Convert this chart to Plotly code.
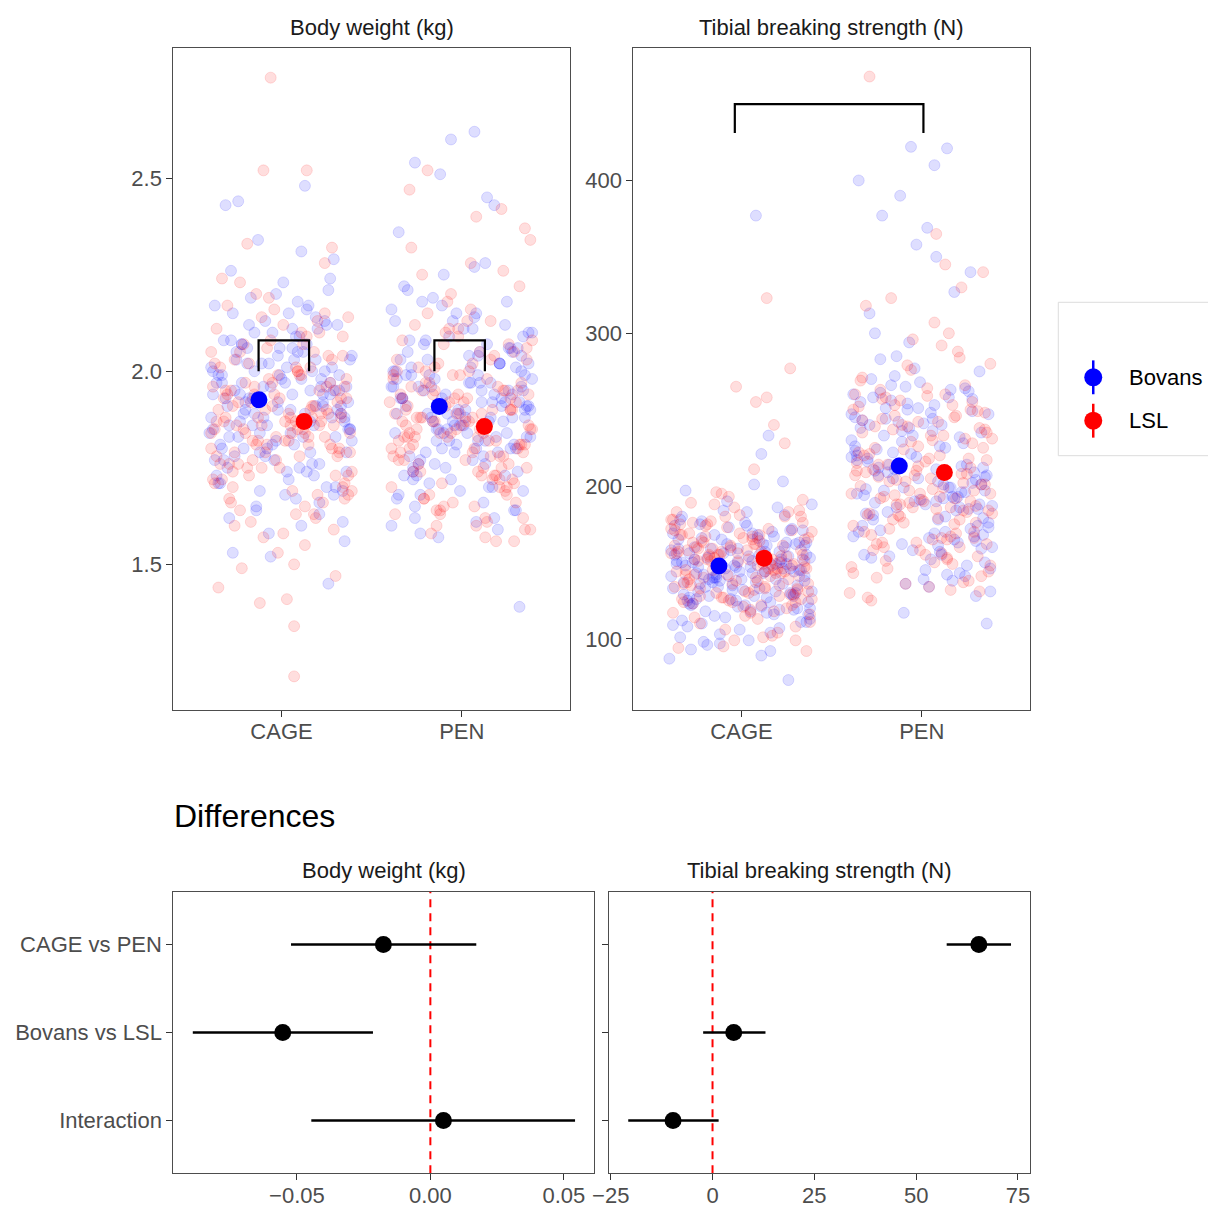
import plotly.graph_objects as go

# ---------------- data ----------------
categories = ["CAGE", "PEN"]
breeds = ["Bovans", "LSL"]

bw_cage_bovans = [1.93, 2.05, 1.81, 1.97, 2.12, 1.74, 1.88, 2.01, 1.66, 1.95,
                  2.18, 1.84, 1.91, 2.07, 1.79, 1.99, 2.23, 1.70, 1.86, 2.03,
                  1.62, 1.94, 2.10, 1.83, 1.90, 2.14, 1.77, 1.98, 2.44, 1.87,
                  1.72, 2.06, 1.92, 1.80, 2.16, 1.96, 1.68, 2.02, 1.85, 1.53,
                  2.09, 1.89, 1.76, 2.00, 2.21, 1.82, 1.95, 1.64, 2.11, 1.91,
                  2.48, 1.78, 2.04, 1.87, 1.97, 1.73, 2.13, 1.93, 1.81, 2.26,
                  1.69, 1.99, 1.86, 2.08, 1.75, 1.92, 2.01, 1.58, 2.17, 1.84,
                  1.96, 2.34, 1.79, 2.05, 1.90, 1.71, 2.12, 1.88, 1.98, 1.45,
                  2.19, 1.83, 1.94, 2.03, 1.77, 1.89, 2.07, 1.67, 2.43, 1.95,
                  1.85, 2.00, 1.74, 2.15, 1.91, 1.80, 2.29, 1.97, 1.60, 2.02,
                  1.88, 2.04, 1.76, 1.99, 2.11, 1.83, 1.94, 1.69, 2.07, 1.86,
                  1.97, 1.73, 2.02, 1.90, 1.80, 2.15, 1.92, 1.65, 2.00, 1.85,
                  2.09, 1.78, 1.95, 2.20, 1.87, 1.71, 2.03, 1.93, 1.82, 2.13,
                  1.98, 1.75, 1.89, 2.06, 1.61, 1.94, 1.84, 2.01, 2.24, 1.79,
                  1.91, 2.08, 1.68, 1.96, 1.86, 2.12, 1.52, 1.99, 1.81, 2.05,
                  1.90, 1.74, 2.17, 1.88, 1.96, 1.63, 2.03, 1.85, 1.92, 2.31,
                  1.77, 2.00, 1.89, 1.70, 2.10, 1.94, 1.83, 2.06, 1.97, 1.56]
bw_cage_lsl = [1.87, 1.76, 2.01, 1.92, 1.68, 2.08, 1.81, 1.95, 1.73, 2.14,
               1.84, 1.62, 1.99, 1.89, 2.05, 1.78, 1.93, 1.70, 2.20, 1.86,
               2.76, 1.80, 1.97, 1.65, 2.11, 1.83, 1.90, 1.74, 2.03, 1.58,
               1.88, 2.17, 1.79, 1.94, 1.21, 1.85, 2.07, 1.71, 1.96, 1.82,
               2.52, 1.67, 1.91, 2.00, 1.77, 1.86, 2.24, 1.63, 1.98, 1.84,
               1.34, 1.92, 2.10, 1.75, 1.88, 2.02, 1.69, 1.95, 1.81, 2.52,
               1.44, 1.90, 2.06, 1.78, 1.86, 1.99, 1.72, 2.13, 1.83, 1.93,
               1.40, 2.04, 1.76, 1.89, 2.33, 1.80, 1.97, 1.66, 1.87, 2.09,
               1.49, 1.85, 2.01, 1.73, 1.94, 1.82, 2.32, 1.60, 1.91, 1.79,
               1.41, 1.88, 2.15, 1.75, 1.96, 1.84, 1.55, 2.05, 1.87, 1.47,
               1.82, 1.95, 1.70, 1.88, 2.04, 1.77, 1.91, 1.64, 1.99, 1.85,
               2.10, 1.74, 1.93, 1.81, 1.68, 2.02, 1.87, 1.59, 1.96, 1.79,
               2.07, 1.84, 1.72, 1.90, 2.16, 1.83, 1.66, 1.98, 1.86, 2.12,
               1.76, 1.92, 1.61, 2.00, 1.80, 1.89, 2.19, 1.71, 1.94, 1.85,
               1.53, 1.97, 1.78, 2.05, 1.88, 1.69, 2.23, 1.82, 1.95, 1.75,
               2.01, 1.87, 1.63, 1.91, 2.09, 1.79, 1.86, 1.57, 2.14, 1.90,
               1.84, 1.73, 2.03, 1.93, 1.67, 2.28, 1.81, 1.89, 1.96, 1.50]
bw_pen_bovans = [1.91, 2.03, 1.80, 1.96, 2.10, 1.72, 1.87, 1.99, 1.64, 1.93,
                 2.16, 1.83, 1.90, 2.06, 1.77, 1.97, 2.22, 1.69, 1.85, 2.01,
                 2.60, 1.94, 2.08, 1.82, 1.89, 2.12, 1.75, 1.98, 2.54, 1.86,
                 1.70, 2.05, 1.92, 1.79, 2.14, 1.95, 1.66, 2.00, 1.84, 1.57,
                 2.07, 1.88, 1.74, 1.99, 2.19, 1.81, 1.93, 1.62, 2.09, 1.90,
                 2.62, 1.76, 2.02, 1.86, 1.96, 1.71, 2.11, 1.91, 1.80, 2.25,
                 1.68, 1.97, 1.85, 2.06, 1.73, 1.92, 2.00, 1.59, 2.15, 1.83,
                 2.51, 1.95, 1.78, 2.04, 1.89, 1.39, 2.13, 1.87, 1.98, 2.45,
                 2.18, 1.82, 1.93, 2.02, 1.76, 1.88, 2.05, 1.65, 2.43, 1.94,
                 1.84, 1.99, 1.73, 2.17, 1.90, 1.79, 2.28, 1.96, 1.61, 2.01,
                 1.87, 2.02, 1.75, 1.97, 2.09, 1.81, 1.92, 1.68, 2.05, 1.84,
                 1.95, 1.72, 2.00, 1.89, 1.79, 2.13, 1.90, 1.64, 1.98, 1.83,
                 2.07, 1.77, 1.93, 2.18, 1.86, 1.70, 2.01, 1.91, 1.80, 2.11,
                 1.96, 1.74, 1.88, 2.04, 1.60, 1.93, 1.82, 1.99, 2.21, 1.78,
                 1.89, 2.06, 1.67, 1.94, 1.85, 2.10, 1.58, 1.97, 1.80, 2.03,
                 1.88, 1.73, 2.15, 1.87, 1.95, 1.62, 2.02, 1.84, 1.91, 2.36,
                 1.76, 1.99, 1.88, 1.69, 2.08, 1.92, 1.82, 2.04, 1.96, 2.27]
bw_pen_lsl = [1.86, 1.75, 1.99, 1.90, 1.68, 2.06, 1.80, 1.93, 1.72, 2.12,
              1.83, 1.63, 1.97, 1.88, 2.03, 1.77, 1.92, 1.70, 2.18, 1.85,
              2.47, 1.79, 1.95, 1.66, 2.09, 1.82, 1.89, 1.73, 2.01, 1.59,
              1.87, 2.15, 1.78, 1.93, 1.61, 1.84, 2.05, 1.71, 1.94, 1.81,
              2.40, 1.67, 1.90, 1.98, 1.76, 1.85, 2.22, 1.64, 1.96, 1.83,
              1.57, 1.91, 2.08, 1.74, 1.87, 2.00, 1.69, 1.94, 1.80, 2.32,
              1.62, 1.89, 2.04, 1.77, 1.85, 1.97, 1.72, 2.11, 1.82, 1.92,
              2.42, 2.02, 1.75, 1.88, 2.28, 1.79, 1.95, 1.65, 1.86, 2.07,
              1.58, 1.84, 1.99, 1.73, 1.93, 1.81, 2.25, 1.60, 1.90, 1.78,
              2.34, 1.87, 2.13, 1.74, 1.95, 1.83, 1.56, 2.03, 1.86, 2.52,
              1.81, 1.94, 1.70, 1.87, 2.02, 1.76, 1.90, 1.64, 1.98, 1.84,
              2.08, 1.73, 1.92, 1.80, 1.67, 2.00, 1.86, 1.60, 1.95, 1.78,
              2.05, 1.83, 1.71, 1.89, 2.13, 1.82, 1.65, 1.97, 1.85, 2.10,
              1.75, 1.91, 1.62, 1.99, 1.79, 1.88, 2.16, 1.70, 1.93, 1.84,
              1.56, 1.96, 1.77, 2.03, 1.87, 1.68, 2.20, 1.81, 1.94, 1.74,
              2.00, 1.86, 1.63, 1.90, 2.07, 1.78, 1.85, 1.59, 2.11, 1.89,
              1.83, 1.72, 2.01, 1.92, 1.66, 2.26, 1.80, 1.88, 1.95, 2.37]

tib_cage_bovans = [148, 162, 135, 171, 128, 155, 141, 183, 119, 152,
                   166, 138, 145, 177, 124, 159, 132, 149, 190, 113,
                   156, 143, 168, 130, 151, 139, 174, 121, 147, 161,
                   99, 153, 136, 180, 127, 158, 144, 165, 116, 150,
                   377, 142, 170, 133, 154, 125, 163, 140, 186, 108,
                   157, 146, 131, 175, 122, 149, 160, 137, 201, 93,
                   152, 144, 167, 129, 155, 118, 172, 141, 233, 87,
                   150, 134, 163, 126, 147, 178, 120, 156, 139, 73,
                   159, 143, 169, 131, 148, 111, 166, 137, 197, 104,
                   153, 140, 174, 123, 146, 162, 128, 151, 221, 96,
                   138, 121, 157, 112, 169, 131, 146, 103, 161, 127,
                   150, 116, 173, 135, 98, 154, 124, 142, 181, 109,
                   133, 160, 119, 147, 92, 165, 128, 139, 188, 114,
                   152, 125, 144, 106, 171, 136, 118, 158, 130, 97,
                   149, 122, 176, 111, 140, 163, 126, 145, 101, 168,
                   134, 117, 155, 129, 184, 107, 143, 120, 159, 89,
                   137, 148, 115, 162, 132, 203, 123, 151, 110, 141]
tib_cage_lsl = [154, 168, 140, 177, 131, 160, 146, 189, 124, 157,
                172, 143, 150, 183, 128, 164, 136, 155, 196, 117,
                161, 148, 174, 134, 156, 144, 180, 126, 152, 166,
                102, 158, 141, 186, 132, 163, 149, 171, 120, 155,
                323, 147, 176, 138, 159, 129, 168, 145, 193, 111,
                162, 151, 135, 181, 126, 154, 165, 142, 277, 95,
                157, 149, 173, 133, 160, 122, 178, 146, 265, 92,
                155, 139, 169, 130, 152, 184, 124, 161, 144, 258,
                164, 148, 175, 136, 153, 115, 171, 142, 240, 106,
                158, 145, 180, 127, 151, 167, 133, 156, 255, 99,
                145, 128, 163, 119, 176, 138, 152, 110, 168, 134,
                157, 123, 180, 142, 104, 161, 131, 149, 188, 116,
                140, 167, 126, 154, 99, 172, 135, 146, 195, 121,
                159, 132, 151, 113, 178, 143, 125, 165, 137, 101,
                156, 129, 183, 118, 147, 170, 133, 152, 108, 175,
                141, 124, 162, 136, 191, 114, 150, 127, 166, 94,
                144, 155, 122, 169, 139, 228, 130, 158, 117, 211]
tib_pen_bovans = [213, 238, 190, 256, 176, 221, 199, 270, 164, 229,
                  247, 184, 205, 262, 171, 226, 194, 212, 285, 152,
                  422, 202, 251, 180, 217, 196, 265, 160, 210, 241,
                  138, 218, 188, 277, 169, 233, 201, 245, 148, 215,
                  421, 197, 258, 178, 222, 167, 243, 192, 294, 131,
                  410, 207, 186, 268, 159, 214, 236, 182, 340, 117,
                  400, 199, 250, 174, 224, 155, 260, 193, 358, 110,
                  390, 185, 240, 166, 209, 275, 158, 228, 195, 142,
                  377, 203, 255, 173, 211, 145, 249, 189, 327, 136,
                  369, 198, 264, 162, 206, 244, 170, 219, 350, 128,
                  205, 232, 181, 248, 168, 219, 193, 261, 157, 226,
                  240, 178, 201, 254, 163, 223, 188, 209, 272, 146,
                  197, 244, 174, 214, 190, 258, 153, 207, 236, 139,
                  212, 185, 266, 161, 230, 196, 238, 150, 216, 192,
                  251, 172, 220, 165, 242, 187, 283, 134, 204, 183,
                  263, 155, 211, 233, 179, 300, 143, 199, 247, 170,
                  225, 154, 257, 191, 313, 141, 186, 235, 167, 253]
tib_pen_lsl = [209, 233, 186, 250, 172, 217, 195, 264, 160, 225,
               242, 180, 201, 257, 167, 222, 190, 208, 279, 148,
               468, 198, 246, 176, 213, 192, 260, 156, 206, 237,
               134, 214, 184, 271, 165, 229, 197, 240, 144, 211,
               365, 193, 253, 174, 218, 163, 238, 188, 288, 127,
               345, 203, 182, 263, 155, 210, 231, 178, 307, 125,
               340, 195, 245, 170, 220, 151, 255, 189, 300, 130,
               330, 181, 235, 162, 205, 269, 154, 224, 191, 138,
               323, 199, 250, 169, 207, 141, 244, 185, 318, 132,
               280, 194, 259, 158, 202, 239, 166, 215, 292, 146,
               201, 226, 178, 243, 165, 214, 190, 256, 153, 221,
               235, 175, 197, 249, 160, 218, 184, 204, 266, 143,
               193, 239, 170, 210, 186, 252, 150, 203, 231, 136,
               208, 181, 260, 158, 225, 192, 233, 147, 212, 188,
               246, 168, 216, 162, 237, 183, 276, 131, 200, 179,
               258, 152, 207, 228, 176, 284, 140, 195, 242, 166,
               220, 149, 253, 187, 296, 137, 182, 230, 163, 248]

# horizontal jitter offsets (category units)
jitter_a = [-0.31, 0.12, -0.05, 0.27, -0.18, 0.36, -0.39, 0.03, 0.21, -0.26,
            0.09, -0.12, 0.33, -0.22, 0.16, -0.35, 0.01, 0.25, -0.08, 0.38,
            -0.29, 0.06, -0.15, 0.30, -0.02, 0.19, -0.37, 0.11, -0.24, 0.35,
            0.04, -0.19, 0.23, -0.33, 0.14, -0.06, 0.29, -0.11, 0.37, -0.27,
            0.08, -0.21, 0.17, -0.38, 0.26, -0.03, 0.32, -0.14, 0.20, -0.30,
            0.13, -0.09, 0.39, -0.23, 0.02, -0.36, 0.24, -0.16, 0.07, -0.28,
            0.34, -0.01, 0.18, -0.32, 0.10, -0.20, 0.28, -0.07, 0.15, -0.40,
            0.22, -0.13, 0.36, -0.25, 0.05, -0.34, 0.31, -0.10, 0.00, 0.26,
            -0.17, 0.12, -0.38, 0.19, -0.04, 0.33, -0.22, 0.08, -0.31, 0.16,
            0.38, -0.15, 0.03, -0.27, 0.23, -0.08, 0.29, -0.36, 0.11, -0.19,
            0.35, -0.02, 0.21, -0.33, 0.06, -0.24, 0.27, -0.12, 0.14, -0.29,
            -0.33, 0.18, -0.07, 0.31, -0.21, 0.04, 0.37, -0.14, 0.24, -0.38,
            0.10, -0.26, 0.29, -0.03, 0.16, -0.35, 0.07, -0.18, 0.39, -0.09,
            0.22, -0.30, 0.13, -0.01, 0.34, -0.23, 0.05, -0.39, 0.27, -0.12,
            0.19, -0.28, 0.02, 0.36, -0.16, 0.25, -0.06, 0.32, -0.34, 0.09,
            -0.20, 0.14, -0.37, 0.28, -0.10, 0.21, -0.25, 0.38, -0.02, 0.11,
            -0.32, 0.17, -0.15, 0.30, -0.05, 0.23, -0.29, 0.06, -0.22, 0.35]
jitter_b = [0.22, -0.34, 0.08, -0.17, 0.37, -0.06, 0.15, -0.28, 0.30, -0.11,
            -0.39, 0.19, -0.02, 0.26, -0.23, 0.10, -0.32, 0.34, -0.14, 0.05,
            -0.06, 0.28, -0.20, 0.13, -0.36, 0.24, -0.09, 0.39, -0.26, 0.01,
            0.17, -0.30, 0.32, -0.04, 0.07, -0.21, 0.12, -0.37, 0.25, -0.13,
            0.14, 0.35, -0.27, 0.09, -0.16, 0.29, -0.33, 0.18, -0.07, 0.38,
            0.07, -0.24, 0.21, -0.01, 0.33, -0.18, 0.06, -0.31, 0.27, -0.10,
            -0.35, 0.16, -0.08, 0.31, -0.25, 0.11, -0.38, 0.20, -0.03, 0.36,
            -0.12, 0.26, -0.29, 0.04, -0.19, 0.32, -0.05, 0.23, -0.36, 0.14,
            -0.22, 0.09, -0.34, 0.37, -0.15, 0.02, 0.28, -0.26, 0.18, -0.09,
            0.03, -0.31, 0.24, -0.11, 0.35, -0.20, 0.13, -0.39, 0.08, 0.30,
            -0.16, 0.21, -0.27, 0.05, 0.34, -0.03, 0.17, -0.23, 0.10, -0.37,
            0.11, -0.27, 0.33, -0.08, 0.20, -0.37, 0.02, 0.29, -0.15, 0.38,
            -0.21, 0.06, -0.33, 0.25, -0.04, 0.15, -0.28, 0.36, -0.11, 0.01,
            -0.24, 0.31, -0.17, 0.09, -0.39, 0.22, -0.07, 0.35, -0.30, 0.12,
            -0.02, 0.27, -0.36, 0.18, -0.13, 0.39, -0.23, 0.04, 0.30, -0.19,
            0.16, -0.32, 0.08, -0.05, 0.34, -0.26, 0.21, -0.10, 0.37, -0.35,
            0.13, -0.18, 0.28, -0.01, -0.29, 0.24, -0.14, 0.33, -0.38, 0.07]

# model means (CAGE, PEN) and half-widths of their intervals
bw_mean_bovans = [1.926, 1.909]
bw_mean_lsl = [1.870, 1.857]
bw_mean_err = [0.015, 0.015]
tib_mean_bovans = [147.6, 213.1]
tib_mean_lsl = [152.8, 208.8]
tib_mean_err = [4.0, 4.0]

# significance brackets: (x_left, x_right, y_low, y_high)
bw_brackets = [(0.873, 1.153, 2.0, 2.08), (1.848, 2.128, 2.0, 2.08)]
tib_brackets = [(0.963, 2.009, 431.0, 450.0)]

# differences (estimate and interval)
contrasts = ["CAGE vs PEN", "Bovans vs LSL", "Interaction"]
bw_diff_est = [-0.0176, -0.0553, 0.0049]
bw_diff_lo = [-0.0522, -0.0890, -0.0446]
bw_diff_hi = [0.0172, -0.0215, 0.0542]
tib_diff_est = [65.4, 5.2, -9.7]
tib_diff_lo = [57.5, -2.3, -20.7]
tib_diff_hi = [73.3, 13.0, 1.5]

# ---------------- styling ----------------
W, H = 1208, 1205
FONT = "Liberation Sans, Arial, Helvetica, sans-serif"
BLUE, RED = "#0000FF", "#FF0000"
BLUE_A, RED_A = "rgba(0,0,255,0.13)", "rgba(255,0,0,0.13)"
DODGE = 0.125


def px(x):
    return x / W


def py(y):
    return 1 - y / H


fig = go.Figure()

raw = {
    ("bw", "CAGE", "Bovans"): (bw_cage_bovans, jitter_a),
    ("bw", "CAGE", "LSL"): (bw_cage_lsl, jitter_b),
    ("bw", "PEN", "Bovans"): (bw_pen_bovans, jitter_b),
    ("bw", "PEN", "LSL"): (bw_pen_lsl, jitter_a),
    ("tib", "CAGE", "Bovans"): (tib_cage_bovans, jitter_a),
    ("tib", "CAGE", "LSL"): (tib_cage_lsl, jitter_b),
    ("tib", "PEN", "Bovans"): (tib_pen_bovans, jitter_b),
    ("tib", "PEN", "LSL"): (tib_pen_lsl, jitter_a),
}
axes = {"bw": ("x", "y"), "tib": ("x2", "y2")}
colors_a = {"Bovans": BLUE_A, "LSL": RED_A}
colors = {"Bovans": BLUE, "LSL": RED}

for var in ["bw", "tib"]:
    xa, ya = axes[var]
    for breed in breeds:
        xs, ys = [], []
        for ci, cat in enumerate(categories):
            vals, jit = raw[(var, cat, breed)]
            for v, j in zip(vals, jit):
                xs.append(ci + 1 + j)
                ys.append(v)
        fig.add_trace(go.Scatter(
            x=xs, y=ys, xaxis=xa, yaxis=ya, mode="markers", showlegend=False,
            marker=dict(size=11, color=colors_a[breed],
                        line=dict(color=colors_a[breed], width=1)),
            hoverinfo="skip"))

# brackets
for var, brs in [("bw", bw_brackets), ("tib", tib_brackets)]:
    xa, ya = axes[var]
    for (x0, x1, y0, y1) in brs:
        fig.add_trace(go.Scatter(x=[x0, x0, x1, x1], y=[y0, y1, y1, y0],
                                 xaxis=xa, yaxis=ya, mode="lines", showlegend=False,
                                 line=dict(color="black", width=2.2), hoverinfo="skip"))

# means
means = {
    "bw": {"Bovans": bw_mean_bovans, "LSL": bw_mean_lsl, "err": bw_mean_err},
    "tib": {"Bovans": tib_mean_bovans, "LSL": tib_mean_lsl, "err": tib_mean_err},
}
for var in ["bw", "tib"]:
    xa, ya = axes[var]
    for bi, breed in enumerate(breeds):
        off = -DODGE if bi == 0 else DODGE
        fig.add_trace(go.Scatter(
            x=[i + 1 + off for i in range(len(categories))], y=means[var][breed],
            xaxis=xa, yaxis=ya, mode="markers", showlegend=False,
            marker=dict(size=17, color=colors[breed]),
            error_y=dict(type="data", array=means[var]["err"], color=colors[breed],
                         thickness=2.5, width=0)))

# differences
for (xa, ya, est, lo, hi) in [("x3", "y3", bw_diff_est, bw_diff_lo, bw_diff_hi),
                               ("x4", "y4", tib_diff_est, tib_diff_lo, tib_diff_hi)]:
    fig.add_trace(go.Scatter(
        x=est, y=contrasts, xaxis=xa, yaxis=ya, mode="markers", showlegend=False,
        marker=dict(size=17, color="black"),
        error_x=dict(type="data", symmetric=False,
                     array=[h - e for h, e in zip(hi, est)],
                     arrayminus=[e - l for e, l in zip(est, lo)],
                     color="black", thickness=2.5, width=0)))

# legend keys (own small axis)
for breed, ky in zip(breeds, [0.5175, 0.2357]):
    fig.add_trace(go.Scatter(
        x=[0.235], y=[ky], xaxis="x5", yaxis="y5", mode="markers",
        showlegend=False, marker=dict(size=18, color=colors[breed]),
        error_y=dict(type="data", array=[0.11], color=colors[breed], thickness=2.5, width=0)))

# ---------------- axes ----------------
BORDER = "#4d4d4d"
TICKF = dict(family=FONT, size=22, color="#4d4d4d")
common = dict(showline=True, linecolor=BORDER, linewidth=1, mirror=True,
              ticks="outside", ticklen=6, tickwidth=1, tickcolor="#333333",
              showgrid=False, zeroline=False, tickfont=TICKF, automargin=False)
xcommon = dict(common, ticklabelstandoff=-4)

top_y = [py(710), py(48.3)]
bot_y = [py(1173.3), py(891.7)]

layout = dict(
    width=W, height=H, margin=dict(l=0, r=0, t=0, b=0, autoexpand=False),
    paper_bgcolor="white", plot_bgcolor="white", showlegend=False,
    font=dict(family=FONT),
    xaxis=dict(domain=[px(173.3), px(570)], range=[0.4, 2.6], anchor="y",
               tickvals=[1, 2], ticktext=categories, **xcommon),
    yaxis=dict(domain=top_y, range=[1.123, 2.836], anchor="x",
               tickvals=[1.5, 2.0, 2.5], ticktext=["1.5", "2.0", "2.5"], **common),
    xaxis2=dict(domain=[px(633.3), px(1030)], range=[0.4, 2.6], anchor="y2",
                tickvals=[1, 2], ticktext=categories, **xcommon),
    yaxis2=dict(domain=top_y, range=[53.4, 486.5], anchor="x2",
                tickvals=[100, 200, 300, 400], **common),
    xaxis3=dict(domain=[px(173.3), px(594)], range=[-0.0963, 0.0613], anchor="y3",
                tickvals=[-0.05, 0, 0.05], ticktext=["\u22120.05", "0.00", "0.05"], **xcommon),
    yaxis3=dict(domain=bot_y, type="category", categoryorder="array",
                categoryarray=contrasts[::-1], range=[-0.6, 2.6], anchor="x3", **common),
    xaxis4=dict(domain=[px(609.3), px(1030)], range=[-25.35, 77.96], anchor="y4",
                tickvals=[-25, 0, 25, 50, 75], ticktext=["\u221225", "0", "25", "50", "75"], **xcommon),
    yaxis4=dict(domain=bot_y, type="category", categoryorder="array",
                categoryarray=contrasts[::-1], range=[-0.6, 2.6], anchor="x4",
                showticklabels=False, **common),
    xaxis5=dict(domain=[px(1058), 1.0], range=[0, 1], visible=False, anchor="y5",
                automargin=False),
    yaxis5=dict(domain=[py(457), py(303)], range=[0, 1], visible=False, anchor="x5",
                automargin=False),
)
fig.update_layout(**layout)

# zero reference lines
for xr, yr in [("x3", "y3"), ("x4", "y4")]:
    fig.add_shape(type="line", xref=xr, yref=f"{yr} domain", x0=0, x1=0, y0=0, y1=1,
                  line=dict(color="#FF0000", width=2, dash="8px,6px"), layer="below")

# legend box
fig.add_shape(type="rect", xref="paper", yref="paper", x0=px(1058.3), x1=1.02,
              y0=py(455.7), y1=py(302.3), line=dict(color="#dcdcdc", width=1),
              fillcolor="rgba(0,0,0,0)")

# texts
STRIP = dict(family=FONT, size=22, color="#1a1a1a")
ann = [
    dict(text="Body weight (kg)", x=(px(173.3) + px(570)) / 2, y=py(27)),
    dict(text="Tibial breaking strength (N)", x=(px(633.3) + px(1030)) / 2, y=py(27)),
    dict(text="Body weight (kg)", x=(px(173.3) + px(594)) / 2, y=py(870)),
    dict(text="Tibial breaking strength (N)", x=(px(609.3) + px(1030)) / 2, y=py(870)),
]
for a in ann:
    fig.add_annotation(xref="paper", yref="paper", showarrow=False, xanchor="center",
                       yanchor="middle", font=STRIP, **a)
fig.add_annotation(text="Differences", xref="paper", yref="paper", x=px(172), y=py(816),
                   xanchor="left", yanchor="middle", showarrow=False,
                   font=dict(family=FONT, size=32, color="black"))
for name, yy in zip(breeds, [377.3, 420.7]):
    fig.add_annotation(text=name, xref="paper", yref="paper", x=px(1127), y=py(yy),
                       xanchor="left", yanchor="middle", showarrow=False,
                       font=dict(family=FONT, size=22, color="black"))

fig.write_html("out.html")
